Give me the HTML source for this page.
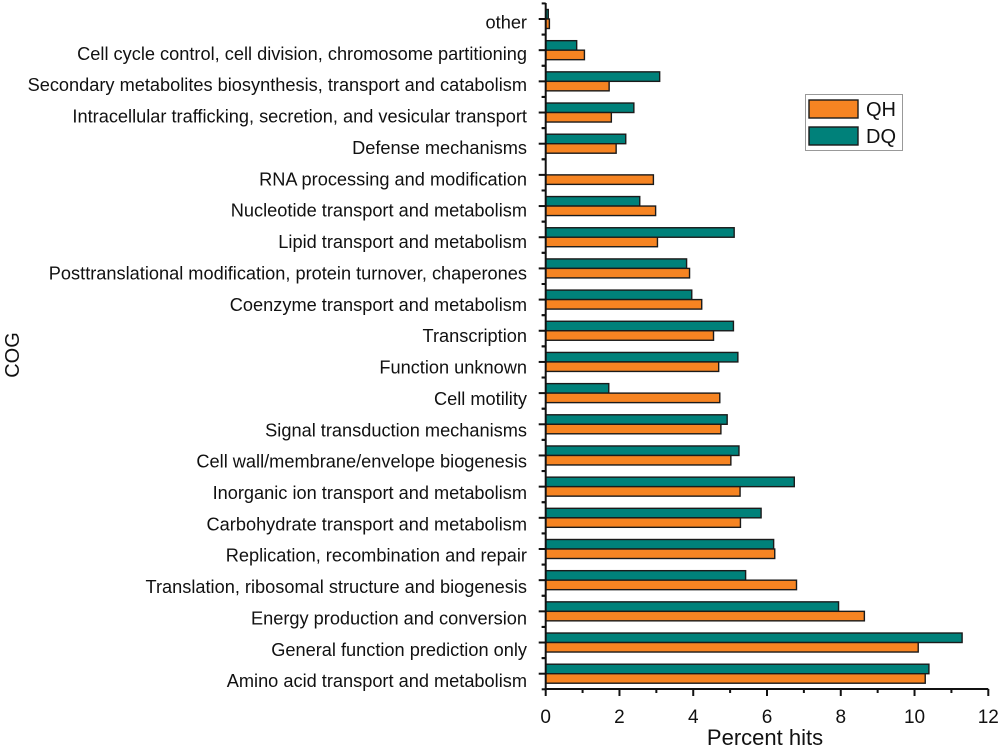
<!DOCTYPE html>
<html><head><meta charset="utf-8"><style>
body{margin:0;background:#fff}
svg{display:block;font-family:"Liberation Sans",Arial,sans-serif}
</style></head><body>
<svg id="chart" width="1000" height="749" viewBox="0 0 1000 749"></svg>
<script>
const categories=["other","Cell cycle control, cell division, chromosome partitioning","Secondary metabolites biosynthesis, transport and catabolism","Intracellular trafficking, secretion, and vesicular transport","Defense mechanisms","RNA processing and modification","Nucleotide transport and metabolism","Lipid transport and metabolism","Posttranslational modification, protein turnover, chaperones","Coenzyme transport and metabolism","Transcription","Function unknown","Cell motility","Signal transduction mechanisms","Cell wall/membrane/envelope biogenesis","Inorganic ion transport and metabolism","Carbohydrate transport and metabolism","Replication, recombination and repair","Translation, ribosomal structure and biogenesis","Energy production and conversion","General function prediction only","Amino acid transport and metabolism"];
const qhValues=[0.1,1.05,1.72,1.78,1.91,2.92,2.98,3.03,3.90,4.23,4.55,4.69,4.72,4.75,5.02,5.27,5.28,6.21,6.80,8.64,10.10,10.29];
const dqValues=[0.07,0.84,3.09,2.39,2.17,0,2.55,5.11,3.82,3.96,5.09,5.21,1.71,4.92,5.24,6.74,5.84,6.18,5.42,7.94,11.29,10.39];
const xTicks=[0,2,4,6,8,10,12];
const NS="http://www.w3.org/2000/svg";
const svg=document.getElementById('chart');
const x0=545.7,x1=988.3,xMax=12;
const yTop=19,yBot=673.7,axisY=689;
const xs=v=>x0+v/xMax*(x1-x0);
const step=(yBot-yTop)/(categories.length-1);
const ys=i=>yTop+i*step;
function mk(t,a,p){const e=document.createElementNS(NS,t);for(const k in a)e.setAttribute(k,a[k]);(p||svg).appendChild(e);return e;}
const bh=9.5;
categories.forEach((c,i)=>{
  const y=ys(i);
  if(dqValues[i]>0){
    const r=mk('rect',{x:x0,y:y-bh,width:xs(dqValues[i])-x0,height:bh,fill:'#00817a',stroke:'#1a1a1a','stroke-width':1.4});
    
    
  }
  const r2=mk('rect',{x:x0,y:y,width:xs(qhValues[i])-x0,height:bh,fill:'#f68422',stroke:'#1a1a1a','stroke-width':1.4});
  
  
  const t=mk('text',{x:527,y:y+9.5+i*0.19,'text-anchor':'end','font-size':18.2,fill:'#111'});
  t.textContent=c;
  
  
  const tk=mk('line',{x1:x0-7,x2:x0,y1:y,y2:y,stroke:'#111','stroke-width':2});
  
  
});
for(let i=0;i<categories.length;i++){
  [ys(i)-step/2,ys(i)+step/2].forEach(yy=>{
    const m=mk('line',{x1:x0-4,x2:x0,y1:yy,y2:yy,stroke:'#111','stroke-width':2});
    
    
  });
}
const ya=mk('line',{x1:x0,x2:x0,y1:3,y2:axisY,stroke:'#111','stroke-width':2});


const xa=mk('line',{x1:x0,x2:x1,y1:axisY,y2:axisY,stroke:'#111','stroke-width':2});


for(let v=0;v<=xMax;v++){
  const l=mk('line',{x1:xs(v),x2:xs(v),y1:axisY,y2:axisY+(v%2?4:7),stroke:'#111','stroke-width':2});
  
  
}
xTicks.forEach(v=>{
  const t=mk('text',{x:xs(v),y:723,'text-anchor':'middle','font-size':19,fill:'#111'});
  t.textContent=v;
  
  
});
const xt=mk('text',{x:765,y:745,'text-anchor':'middle','font-size':22,fill:'#111'});
xt.textContent='Percent hits';


const yt=mk('text',{x:0,y:0,'text-anchor':'middle','font-size':20,fill:'#111',transform:'translate(19,355) rotate(-90)'});
yt.textContent='COG';


const lg=mk('g',{});


mk('rect',{x:805.5,y:94.5,width:97,height:56,fill:'#fff',stroke:'#999','stroke-width':1},lg);
const e1=mk('rect',{x:809,y:100,width:49,height:18,fill:'#f68422',stroke:'#1a1a1a','stroke-width':1.4},lg);


const e2=mk('rect',{x:809,y:127,width:49,height:18,fill:'#00817a',stroke:'#1a1a1a','stroke-width':1.4},lg);


const t1=mk('text',{x:866,y:116,'font-size':20,fill:'#111'},lg);t1.textContent='QH';


const t2=mk('text',{x:866,y:143,'font-size':20,fill:'#111'},lg);t2.textContent='DQ';


</script>
</body></html>
